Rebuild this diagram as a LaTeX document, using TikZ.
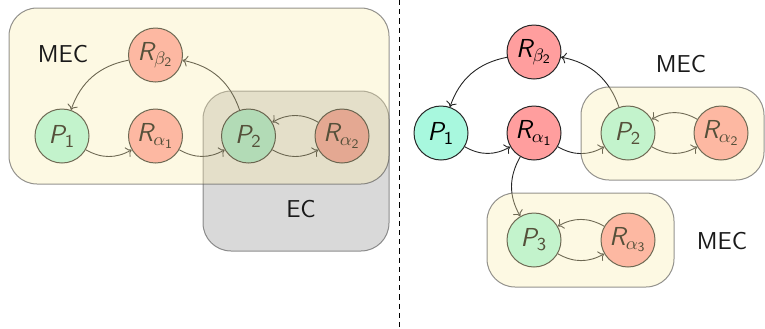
\documentclass[tikz,border=0pt]{standalone}
\usepackage{amsmath}
\usetikzlibrary{arrows.meta}

\definecolor{pfill}{RGB}{168,248,222}
\definecolor{rfill}{RGB}{255,158,158}
\definecolor{mecfill}{RGB}{250,236,172}
\definecolor{ecfill}{RGB}{0,0,0}

% sans italic state names with sans digits
\newcommand{\stname}[1]{\text{\sffamily\itshape #1}}
\newcommand{\sdig}[1]{\text{\sffamily #1}}

\tikzset{
  state/.style={circle, draw=black!85, line width=0.5pt, minimum size=27pt,
    inner sep=0pt, font=\fontsize{13}{15}\selectfont},
  pstate/.style={state, fill=pfill},
  rstate/.style={state, fill=rfill},
  link/.style={->, line width=0.45pt, draw=black!85, bend right=30},
  mecbox/.style={rounded corners=14pt, fill=mecfill, fill opacity=0.34,
    draw=black!70, draw opacity=0.6, line width=0.5pt},
  ecbox/.style={rounded corners=14pt, fill=ecfill, fill opacity=0.15,
    draw=black!70, draw opacity=0.6, line width=0.5pt},
  boxlabel/.style={font=\sffamily\fontsize{12.2}{14}\selectfont, text=black!90},
}

\begin{document}
\begin{tikzpicture}[x=0.5pt, y=-0.5pt]
\useasboundingbox (0,0) rectangle (765,328);

% ---- left: MEC containing an EC ----
\node[rstate] (lrb2) at (155.5,55) {$\stname{R}_{\beta_{\sdig{2}}}$};
\node[pstate] (lp1)  at (62,136)  {$\stname{P}_{\sdig{1}}$};
\node[rstate] (lra1) at (155.5,136) {$\stname{R}_{\alpha_{\sdig{1}}}$};
\node[pstate] (lp2)  at (248.5,136) {$\stname{P}_{\sdig{2}}$};
\node[rstate] (lra2) at (342,136) {$\stname{R}_{\alpha_{\sdig{2}}}$};

\draw[link] (lrb2) to (lp1);
\draw[link] (lp2) to (lrb2);
\draw[link] (lp1) to (lra1);
\draw[link] (lra1) to (lp2);
\draw[link] (lp2) to (lra2);
\draw[link] (lra2) to (lp2);

\path[ecbox] (203,91) rectangle (389,251);
\path[mecbox] (9,8) rectangle (389,184);
\node[boxlabel] (lmec) at (63,54) {MEC};
\node[boxlabel] (lec) at (301,209) {EC};

% ---- separator ----
\coordinate (sept) at (399,0);
\coordinate (sepb) at (399,328);
\draw[line width=0.5pt, dash pattern=on 2.6pt off 2pt] (sept) -- (sepb);

% ---- right: two MECs ----
\node[rstate] (rrb2) at (534,52)  {$\stname{R}_{\beta_{\sdig{2}}}$};
\node[pstate] (rp1)  at (441,133) {$\stname{P}_{\sdig{1}}$};
\node[rstate] (rra1) at (534,133) {$\stname{R}_{\alpha_{\sdig{1}}}$};
\node[pstate] (rp2)  at (628,133) {$\stname{P}_{\sdig{2}}$};
\node[rstate] (rra2) at (721,133) {$\stname{R}_{\alpha_{\sdig{2}}}$};
\node[pstate] (rp3)  at (534,240) {$\stname{P}_{\sdig{3}}$};
\node[rstate] (rra3) at (628,240) {$\stname{R}_{\alpha_{\sdig{3}}}$};

\draw[link] (rrb2) to (rp1);
\draw[link] (rp2) to (rrb2);
\draw[link] (rp1) to (rra1);
\draw[link] (rra1) to (rp2);
\draw[link] (rp2) to (rra2);
\draw[link] (rra2) to (rp2);
\draw[link] (rra1) to (rp3);
\draw[link] (rp3) to (rra3);
\draw[link] (rra3) to (rp3);

\path[mecbox] (581,87) rectangle (764,180);
\path[mecbox] (487,193) rectangle (674,287);
\node[boxlabel] (rmec1) at (681,64) {MEC};
\node[boxlabel] (rmec2) at (722,241) {MEC};
\end{tikzpicture}
\end{document}
